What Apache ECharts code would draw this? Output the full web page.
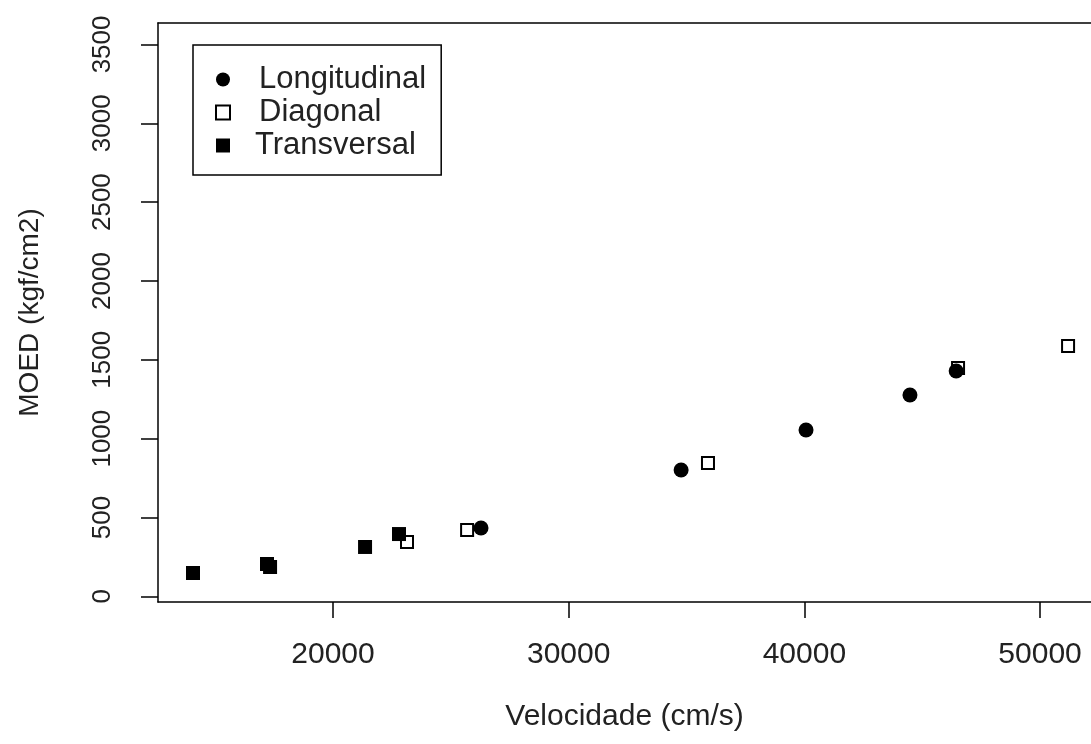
<!DOCTYPE html>
<html>
<head>
    <meta charset="utf-8">
    <title>MOED x Velocidade</title>
    <script src="https://cdn.jsdelivr.net/npm/echarts@6/dist/echarts.min.js"></script>
    <style>
        html, body { margin: 0; padding: 0; background: #fff; }
        #chart { width: 1091px; height: 744px; }
    </style>
</head>
<body>
<div id="chart"></div>
<script>
    // dados
    var longX = [26280, 34770, 40070, 44480, 46440];
    var longY = [433, 801, 1055, 1277, 1429];
    var diagX = [23140, 25690, 35910, 46520, 51188];
    var diagY = [344, 420, 845, 1448, 1588];
    var transX = [14060, 17200, 17330, 21360, 22800];
    var transY = [148, 205, 186, 313, 395];

    var xTicks = [20000, 30000, 40000, 50000];
    var yTicks = [0, 500, 1000, 1500, 2000, 2500, 3000, 3500];

    var FONT = 'Liberation Sans, Arial, sans-serif';
    var LINE = {color: '#000', width: 1.5};

    function pairs(xs, ys) {
        var out = [];
        for (var i = 0; i < xs.length; i++) {
            out.push([xs[i], ys[i]]);
        }
        return out;
    }

    var chart = echarts.init(document.getElementById('chart'));

    var option = {
        animation: false,
        backgroundColor: '#fff',
        grid: {
            left: 158,
            top: 23,
            right: 0,
            bottom: 142,
            show: false
        },
        xAxis: [{
            type: 'value',
            min: 12575,
            max: 52161,
            name: 'Velocidade (cm/s)',
            nameLocation: 'middle',
            nameGap: 100,
            nameTextStyle: {fontFamily: FONT, fontSize: 30, color: '#222'},
            splitLine: {show: false},
            axisLine: {show: true, onZero: false, lineStyle: LINE},
            axisTick: {show: true, length: 16, customValues: xTicks, lineStyle: LINE},
            axisLabel: {
                customValues: xTicks,
                margin: 38,
                fontFamily: FONT,
                fontSize: 30,
                color: '#222',
                formatter: function (v) { return String(v); }
            }
        }, {
            // linha superior da caixa
            type: 'value',
            position: 'top',
            min: 12575,
            max: 52161,
            splitLine: {show: false},
            axisLine: {show: true, onZero: false, lineStyle: LINE},
            axisTick: {show: false},
            axisLabel: {show: false}
        }],
        yAxis: {
            type: 'value',
            min: -36,
            max: 3636,
            name: 'MOED (kgf/cm2)',
            nameLocation: 'middle',
            nameRotate: 90,
            nameGap: 114,
            nameTextStyle: {fontFamily: FONT, fontSize: 28, color: '#222'},
            splitLine: {show: false},
            axisLine: {show: true, onZero: false, lineStyle: LINE},
            axisTick: {show: true, length: 17, customValues: yTicks, lineStyle: LINE},
            axisLabel: {
                customValues: yTicks,
                rotate: 90,
                margin: 42,
                fontFamily: FONT,
                fontSize: 26,
                color: '#222',
                formatter: function (v) { return String(v); }
            }
        },
        legend: {
            orient: 'vertical',
            left: 193,
            top: 45,
            borderColor: '#000',
            borderWidth: 1.5,
            padding: [19, 15, 14, 22],
            itemGap: 2,
            itemWidth: 14,
            itemHeight: 14,
            textStyle: {fontFamily: FONT, fontSize: 31, lineHeight: 30, color: '#222', padding: [0, 0, 0, 24]},
            data: [
                {name: 'Longitudinal', icon: 'circle'},
                {name: 'Diagonal', icon: 'rect'},
                {name: 'Transversal', icon: 'rect', textStyle: {padding: [0, 0, 0, 20]}}
            ]
        },
        series: [
            {
                name: 'Longitudinal',
                type: 'scatter',
                symbol: 'circle',
                symbolSize: 15,
                itemStyle: {color: '#000', opacity: 1},
                data: pairs(longX, longY)
            },
            {
                name: 'Diagonal',
                type: 'scatter',
                symbol: 'rect',
                symbolSize: 12,
                itemStyle: {color: 'rgba(0,0,0,0)', borderColor: '#000', borderWidth: 2, opacity: 1},
                data: pairs(diagX, diagY)
            },
            {
                name: 'Transversal',
                type: 'scatter',
                symbol: 'rect',
                symbolSize: 14,
                itemStyle: {color: '#000', opacity: 1},
                data: pairs(transX, transY)
            }
        ]
    };

    chart.setOption(option);
</script>
</body>
</html>
